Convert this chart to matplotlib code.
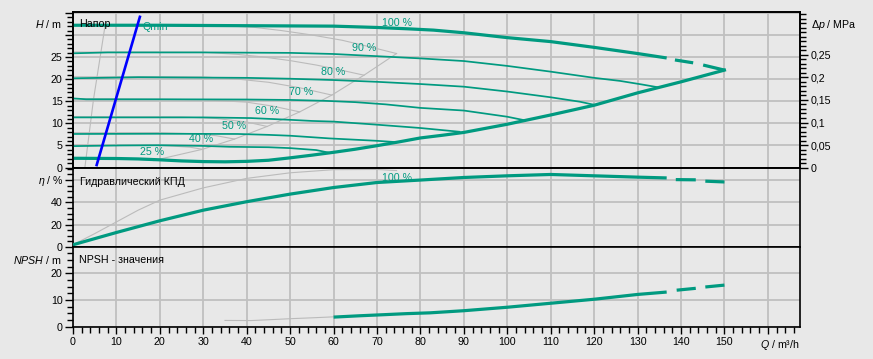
import matplotlib
matplotlib.use('Agg')
import matplotlib.pyplot as plt
import numpy as np
from matplotlib.ticker import MultipleLocator, FixedLocator, FuncFormatter

# ---------------- data ----------------
nan = float('nan')
# head curves (teal)
q100 = [0, 20, 40, 60, 70, 77, 83, 90, 100, 110, 120, 130, 136.7, 137.6, 138.6, 142.8, 144.0, 145.1, 150]
h100 = [32.2, 32.2, 32.1, 32.0, 31.7, 31.4, 31.1, 30.5, 29.4, 28.5, 27.2, 25.8, 24.8, nan, 24.35, 23.7, nan, 23.2, 22.05]
q90 = [0, 8, 30, 50, 60, 70, 80, 90, 100, 110, 120, 126, 131, 134.5]
h90 = [25.85, 26.05, 26.05, 25.95, 25.7, 25.2, 24.7, 24.1, 23.0, 21.7, 20.3, 19.6, 18.8, 18.2]
q80 = [0, 15, 40, 50, 60, 70, 80, 85, 90, 100, 110, 116.7, 120]
h80 = [20.2, 20.45, 20.3, 20.1, 19.8, 19.4, 18.9, 18.6, 18.3, 17.2, 15.9, 14.9, 14.2]
q70 = [0, 3, 20, 40, 50, 58, 65, 72, 80, 90, 100, 104]
h70 = [15.65, 15.45, 15.45, 15.4, 15.3, 15.1, 14.8, 14.3, 13.5, 12.9, 11.5, 10.7]
q60 = [0, 30, 41, 50, 55, 60, 70, 80, 89]
h60 = [11.35, 11.35, 11.2, 10.8, 10.55, 10.4, 9.7, 8.95, 8.1]
q50 = [0, 20, 38, 45, 50, 59, 70, 74.5]
h50 = [7.6, 7.65, 7.6, 7.4, 7.2, 6.6, 6.05, 5.75]
q40 = [0, 11, 20, 30, 36, 45, 50, 56, 59]
h40 = [4.85, 5.0, 5.05, 4.9, 4.7, 4.6, 4.4, 3.96, 3.35]
# thick envelope (25 % curve + right limit)
qenv = [0, 10, 15, 20, 25, 30, 35, 40, 45, 50, 55, 60, 65, 70, 75, 80, 85, 90, 100, 110, 120, 130, 140, 150]
henv = [2.1, 2.05, 1.95, 1.75, 1.5, 1.35, 1.3, 1.4, 1.65, 2.2, 2.8, 3.45, 4.15, 4.95, 5.8, 6.7, 7.3, 7.95, 9.8, 11.9, 14.1, 16.9, 19.4, 22.05]

# grey comparison curves
gq100 = [0, 35, 42, 48, 55, 62, 68, 74.5]
gh100 = [32.2, 32.1, 31.7, 31.0, 30.0, 28.8, 27.4, 25.8]
gq90 = [0, 30, 38, 44, 50, 56, 61, 67]
gh90 = [26.15, 26.1, 25.6, 25.0, 24.2, 23.2, 22.2, 20.9]
gq80 = [0, 30, 38, 45, 52, 59.6]
gh80 = [20.55, 20.5, 20.0, 19.3, 18.1, 16.4]
gq70 = [0, 30, 40, 46, 52.2]
gh70 = [15.6, 15.35, 14.8, 13.9, 12.6]
gq60 = [0, 25, 33, 40, 44.7]
gh60 = [11.5, 11.45, 11.1, 10.3, 9.3]
gq50 = [0, 20, 28, 33, 37.2]
gh50 = [7.9, 7.9, 7.65, 7.2, 6.45]
gq40 = [0, 18, 23, 27, 29.8]
gh40 = [5.05, 5.05, 4.85, 4.6, 4.13]
gq25 = [0, 10, 15, 18.6]
gh25 = [2.0, 2.0, 1.85, 1.6]
gqenv = [18.6, 29.8, 37.2, 44.7, 52.2, 59.6, 67, 74.5]
ghenv = [1.6, 4.13, 6.45, 9.3, 12.6, 16.4, 20.9, 25.8]
gqmin_q = [2.76, 4.7, 7.4]
gqmin_h = [0.2, 15.3, 32.2]

# Qmin line (blue)
qmin_q = [5.45, 15.4]
qmin_h = [0.57, 34.1]

# efficiency
qeta = [0, 10, 20, 30, 40, 50, 60, 70, 80, 90, 100, 110, 120, 130, 136.7, 137.7, 138.8, 143.4, 144.5, 145.6, 150]
eta = [2, 13, 23.5, 33, 40.6, 47.4, 53.3, 57.8, 60, 62.3, 63.8, 65, 63.8, 62.6, 61.9, nan, 60.4, 60.2, nan, 59.0, 58.3]
gqeta = [0, 5, 10, 15, 20, 30, 40, 50, 60, 70, 74.5]
geta = [2, 12, 22.5, 33, 42, 53, 61.5, 66.5, 69.3, 69.5, 68.5]

# NPSH
qnpsh = [60, 66, 71.5, 76.8, 82.2, 90, 100, 110, 120, 130, 136.7, 137.8, 139, 143.4, 144.5, 145.6, 150]
npsh = [3.6, 4.1, 4.5, 4.9, 5.2, 6.0, 7.3, 8.8, 10.3, 12.1, 13.0, nan, 13.7, 14.4, nan, 14.9, 15.6]
gqnpsh = [35, 41, 45, 50, 56, 60, 66, 70, 74.5]
gnpsh = [2.35, 2.3, 2.6, 3.0, 3.4, 3.7, 4.05, 4.4, 4.8]

pct_labels = ['100 %', '90 %', '80 %', '70 %', '60 %', '50 %', '40 %', '25 %']
pct_q = [74.5, 67.0, 59.8, 52.5, 44.8, 37.2, 29.6, 18.1]
pct_h = [32.8, 27.0, 21.6, 17.0, 12.7, 9.3, 6.4, 3.5]

x_ticks = list(range(0, 170, 10))
h_ticks = [0, 5, 10, 15, 20, 25]
dp_ticks = [0, 0.05, 0.1, 0.15, 0.2, 0.25]
eta_ticks = [0, 20, 40]
npsh_ticks = [0, 10, 20]

# ---------------- style ----------------
BG = '#e8e8e8'
GRID = '#c0c0c0'
TEAL = '#009a80'
GRAY = '#bbbbbb'
BLUE = '#0000ff'
FS = 7.7
plt.rcParams['font.family'] = ['Liberation Sans', 'DejaVu Sans']
plt.rcParams['font.size'] = FS
plt.rcParams['axes.linewidth'] = 1.2
plt.rcParams['mathtext.fontset'] = 'custom'
plt.rcParams['mathtext.rm'] = 'Liberation Sans'
plt.rcParams['mathtext.it'] = 'Liberation Sans:italic'

W_PX, H_PX = 873, 359
fig = plt.figure(figsize=(W_PX / 100, H_PX / 100), dpi=100, facecolor=BG)
XL, XR = 73, 800


def rect(ytop, ybot):
    return [XL / W_PX, 1 - ybot / H_PX, (XR - XL) / W_PX, (ybot - ytop) / H_PX]


ax1 = fig.add_axes(rect(12, 168))
ax2 = fig.add_axes(rect(168, 247))
ax3 = fig.add_axes(rect(247, 326.7))

XMAX = 167.4
for ax in (ax1, ax2, ax3):
    ax.set_facecolor(BG)
    ax.set_xlim(0, XMAX)
    ax.xaxis.set_major_locator(MultipleLocator(10))
    ax.grid(True, which='major', color=GRID, lw=1.3, zorder=0)
    ax.set_axisbelow(True)
    for s in ax.spines.values():
        s.set_color('black')
        s.set_linewidth(1.2)
    ax.tick_params(axis='y', which='major', direction='out', length=6, width=1, pad=1.5, labelsize=FS)
    ax.tick_params(axis='y', which='minor', direction='out', length=4.5, width=1)

for ax in (ax1, ax2):
    ax.tick_params(axis='x', which='both', length=0, labelbottom=False)

ax3.xaxis.set_minor_locator(MultipleLocator(2))
ax3.tick_params(axis='x', which='major', direction='out', length=5, width=1, pad=2.5, labelsize=FS)
ax3.tick_params(axis='x', which='minor', direction='out', length=4, width=1)
ax3.set_xticks(x_ticks)
ax3.xaxis.set_major_formatter(FuncFormatter(lambda v, p: '%d' % v if v <= 150 else ''))

# top panel axis
HMIN, HMAX = -0.1, 35.2
ax1.set_ylim(HMIN, HMAX)
ax1.yaxis.set_major_locator(FixedLocator(list(range(0, 36, 5))))
ax1.yaxis.set_minor_locator(MultipleLocator(1))
ax1.yaxis.set_major_formatter(FuncFormatter(lambda v, p: '%d' % v if round(v) in h_ticks else ''))

ax1r = ax1.twinx()
k = 0.00981
ax1r.set_ylim(HMIN * k, HMAX * k)
ax1r.yaxis.set_major_locator(FixedLocator(dp_ticks))
ax1r.yaxis.set_minor_locator(MultipleLocator(0.01))
ax1r.yaxis.set_major_formatter(FuncFormatter(lambda v, p: ('%g' % v).replace('.', ',')))
ax1r.tick_params(axis='y', which='major', direction='out', length=6, width=1, pad=1.5, labelsize=FS)
ax1r.tick_params(axis='y', which='minor', direction='out', length=4.5, width=1)
for s in ax1r.spines.values():
    s.set_linewidth(1.2)

ax2.set_ylim(0, 70.8)
ax2.yaxis.set_major_locator(FixedLocator([0, 20, 40, 60]))
ax2.yaxis.set_minor_locator(MultipleLocator(5))
ax2.yaxis.set_major_formatter(FuncFormatter(lambda v, p: '%d' % v if round(v) in eta_ticks else ''))

ax3.set_ylim(0, 29.9)
ax3.yaxis.set_major_locator(FixedLocator([0, 10, 20, 30]))
ax3.yaxis.set_minor_locator(MultipleLocator(2.5))
ax3.yaxis.set_major_formatter(FuncFormatter(lambda v, p: '%d' % v if round(v) in npsh_ticks else ''))

# ---------------- curves ----------------
thin = 1.25
thick = 2.3
grey_w = 0.8
for gq, gh in [(gq100, gh100), (gq90, gh90), (gq80, gh80), (gq70, gh70), (gq60, gh60),
               (gq50, gh50), (gq40, gh40), (gq25, gh25), (gqenv, ghenv), (gqmin_q, gqmin_h)]:
    ax1.plot(gq, gh, color=GRAY, lw=grey_w, zorder=2)

for q, h in [(q90, h90), (q80, h80), (q70, h70), (q60, h60), (q50, h50), (q40, h40)]:
    ax1.plot(q, h, color=TEAL, lw=thin, zorder=3)
ax1.plot(q100, h100, color=TEAL, lw=thick, zorder=4, solid_capstyle='butt')
ax1.plot(qenv, henv, color=TEAL, lw=thick, zorder=4)
ax1.plot(qmin_q, qmin_h, color=BLUE, lw=1.9, zorder=5)

for lab, q, h in zip(pct_labels, pct_q, pct_h):
    ax1.text(q, h, lab, color=TEAL, fontsize=FS, ha='center', va='center', zorder=6)
ax1.text(16.05, 31.9, 'Qmin', color=TEAL, fontsize=FS, ha='left', va='center', zorder=6)

ax2.plot(gqeta, geta, color=GRAY, lw=grey_w, zorder=2)
ax2.plot(qeta, eta, color=TEAL, lw=thick, zorder=4, solid_capstyle='butt')
ax2.text(74.5, 61.4, '100 %', color=TEAL, fontsize=FS, ha='center', va='center', zorder=6)

ax3.plot(gqnpsh, gnpsh, color=GRAY, lw=grey_w, zorder=2)
ax3.plot(qnpsh, npsh, color=TEAL, lw=thick, zorder=4, solid_capstyle='butt')

# ---------------- texts ----------------
def ftext(x, y, s, **kw):
    fig.text(x / W_PX, 1 - y / H_PX, s, fontsize=FS, **kw)

ftext(79.5, 24.2, 'Напор', ha='left', va='center')
ftext(80, 181.8, 'Гидравлический КПД', ha='left', va='center')
ftext(79, 260.2, 'NPSH - значения', ha='left', va='center')
ftext(62, 24.5, '$H$ / m', ha='right', va='center')
ftext(63.3, 181.5, '$\\eta$ / %', ha='right', va='center')
ftext(62, 260.5, '$NPSH$ / m', ha='right', va='center')
ftext(810.7, 24.7, '$\\Delta p$ / MPa', ha='left', va='center')
ftext(799.5, 345.5, '$Q$ / m³/h', ha='right', va='center')

fig.savefig('out.png', dpi=100, facecolor=BG)
